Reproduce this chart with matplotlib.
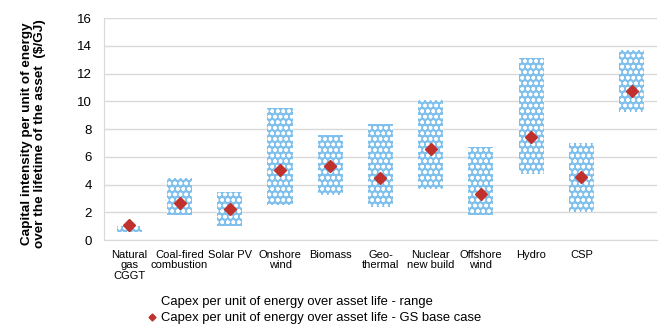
import matplotlib.pyplot as plt
from matplotlib.patches import Patch
from matplotlib.lines import Line2D

plt.rcParams['font.family'] = ['Liberation Sans', 'DejaVu Sans']
plt.rcParams['hatch.linewidth'] = 1.0

categories = ["Natural\ngas\nCGGT", "Coal-fired\ncombustion", "Solar PV", "Onshore\nwind",
              "Biomass", "Geo-\nthermal", "Nuclear\nnew build", "Offshore\nwind",
              "Hydro", "CSP", ""]
range_low = [0.6, 1.8, 1.05, 2.5, 3.25, 2.4, 3.7, 1.8, 4.75, 2.0, 9.25]
range_high = [1.0, 4.47, 3.45, 9.5, 7.55, 8.4, 10.1, 6.7, 13.15, 7.0, 13.7]
base_case = [1.1, 2.7, 2.25, 5.05, 5.35, 4.5, 6.55, 3.35, 7.45, 4.56, 10.75]

fig = plt.figure(figsize=(6.6, 3.28), dpi=100)
ax = fig.add_axes([0.158, 0.268, 0.837, 0.677])

x = list(range(len(categories)))
heights = [h - l for h, l in zip(range_high, range_low)]
ax.bar(x, heights, bottom=range_low, width=0.5, color='#80c0ed',
       edgecolor='white', linewidth=0, hatch='ooo', zorder=2)
ax.plot(x, base_case, linestyle='none', marker='D', ms=6.5,
        color='#c0302c', zorder=3)

ax.set_xlim(-0.5, len(categories) - 0.5)
ax.set_ylim(0, 16)
ax.set_yticks(range(0, 17, 2))
ax.set_xticks(x)
ax.set_xticklabels(categories, fontsize=8, linespacing=1.05, va='top')
ax.tick_params(axis='both', length=0)
ax.tick_params(axis='y', labelsize=9.5, pad=9)
ax.tick_params(axis='x', pad=7)
ax.grid(axis='y', color='#d9d9d9', linewidth=1, zorder=0)
ax.set_axisbelow(True)
for s in ['top', 'right']:
    ax.spines[s].set_visible(False)
for s in ['left', 'bottom']:
    ax.spines[s].set_color('#d9d9d9')

ax.set_ylabel("Capital intensity per unit of energy\nover the lifetime of the asset  ($/GJ)",
              fontsize=9.7, fontweight='bold', linespacing=1.05)
ax.yaxis.set_label_coords(-0.106, 0.478)

handles = [Patch(facecolor='none', edgecolor='none'),
           Line2D([], [], linestyle='none', marker='D', ms=3.5, color='#c0302c')]
labels = ["Capex per unit of energy over asset life - range",
          "Capex per unit of energy over asset life - GS base case"]
fig.legend(handles, labels, loc='upper left', bbox_to_anchor=(0.222, 0.097),
           frameon=False, fontsize=9.4, handlelength=0.8, handletextpad=0.3,
           labelspacing=0.3, borderaxespad=0, borderpad=0)

fig.savefig("out.png", dpi=100)
